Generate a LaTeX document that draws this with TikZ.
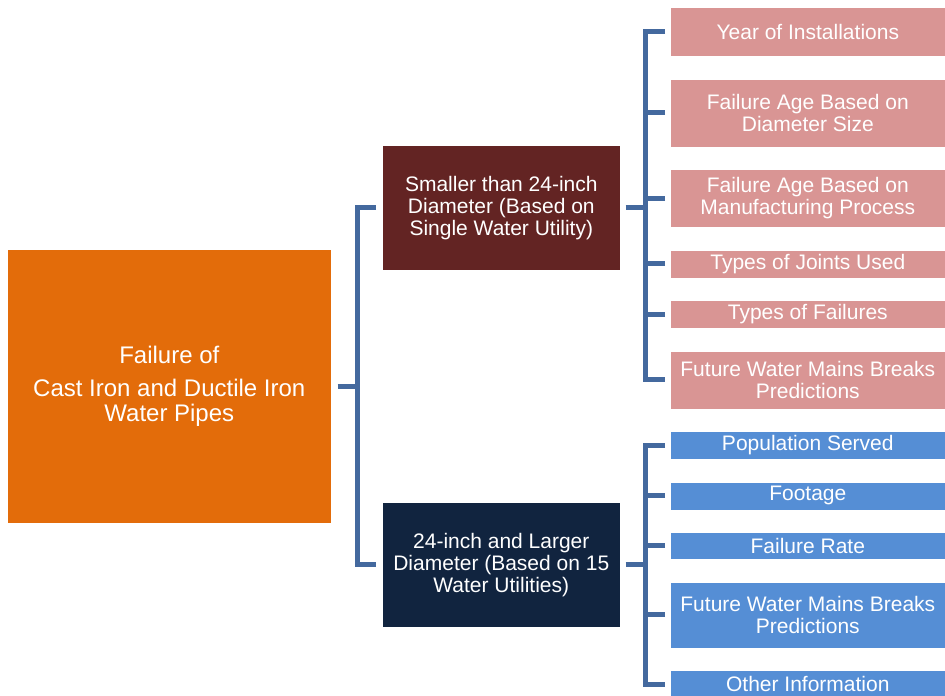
\documentclass[tikz,border=0pt]{standalone}
\usepackage{fontspec}
\setmainfont{Liberation Sans}
\usetikzlibrary{positioning}
\definecolor{rootorange}{RGB}{227,108,10}
\definecolor{smallred}{RGB}{99,36,35}
\definecolor{largenavy}{RGB}{17,36,63}
\definecolor{leafpink}{RGB}{217,149,148}
\definecolor{leafblue}{RGB}{85,142,213}
\definecolor{linkblue}{RGB}{68,105,158}

\begin{document}
\begin{tikzpicture}[
  x=1pt, y=-1pt,
  node distance=21.9pt,
  base/.style={text=white, inner sep=2pt, align=center, draw=white, line width=0.6pt},
  rootbox/.style={base, fill=rootorange, minimum width=324pt, minimum height=274pt, font=\fontsize{24}{25}\selectfont},
  mid/.style={base, minimum width=238pt, minimum height=125pt, font=\fontsize{21}{22}\selectfont},
  pinkleaf/.style={base, fill=leafpink, minimum width=275pt, font=\fontsize{21}{22}\selectfont},
  blueleaf/.style={base, fill=leafblue, minimum width=275pt, font=\fontsize{21}{22}\selectfont},
  link/.style={line width=5pt, draw=linkblue}
]
\useasboundingbox (0,0) rectangle (945,696);
\node[rootbox, anchor=north west] (root) at (7,249) {Failure of\\[8pt]Cast Iron and Ductile Iron\\Water Pipes};
\node[mid, fill=smallred, anchor=north west] (small) at (382,145) {Smaller than 24-inch\\Diameter (Based on\\Single Water Utility)};
\node[mid, fill=largenavy, anchor=north west] (large) at (382,502) {24-inch and Larger\\Diameter (Based on 15\\Water Utilities)};
\node[pinkleaf, minimum height=49pt, anchor=north west] (yr) at (670,7) {Year of Installations};
\node[pinkleaf, minimum height=68pt, below=of yr] (agedia) {Failure Age Based on\\Diameter Size};
\node[pinkleaf, minimum height=58pt, below=of agedia] (agemfg) {Failure Age Based on\\Manufacturing Process};
\node[pinkleaf, minimum height=28pt, below=of agemfg] (joints) {Types of Joints Used};
\node[pinkleaf, minimum height=28pt, below=of joints] (fails) {Types of Failures};
\node[pinkleaf, minimum height=58pt, below=of fails] (fut1) {Future Water Mains Breaks\\Predictions};
\node[blueleaf, minimum height=28pt, below=of fut1] (pop) {Population Served};
\node[blueleaf, minimum height=28pt, below=of pop] (foot) {Footage};
\node[blueleaf, minimum height=27pt, below=of foot] (rate) {Failure Rate};
\node[blueleaf, minimum height=66pt, below=of rate] (fut2) {Future Water Mains Breaks\\Predictions};
\node[blueleaf, minimum height=28pt, below=of fut2] (other) {Other Information};
% root to the two diameter groups
\draw[link] ([xshift=6pt]root.east) -- ++(20pt,0);
\draw[link] ([xshift=-6pt]small.west) -- ++(-19pt,0) |- ([xshift=-6pt]large.west);
% smaller than 24-inch
\draw[link] ([xshift=5pt]small.east) -- ++(20pt,0);
\draw[link] ([xshift=-5pt]yr.west) -- ++(-20pt,0) |- ([xshift=-5pt]fut1.west);
\draw[link] ([xshift=-5pt]agedia.west) -- ++(-20pt,0); \draw[link] ([xshift=-5pt]agemfg.west) -- ++(-20pt,0);
\draw[link] ([xshift=-5pt]joints.west) -- ++(-20pt,0); \draw[link] ([xshift=-5pt]fails.west) -- ++(-20pt,0);
% 24-inch and larger
\draw[link] ([xshift=5pt]large.east) -- ++(20pt,0);
\draw[link] ([xshift=-5pt]pop.west) -- ++(-20pt,0) |- ([xshift=-5pt]other.west);
\draw[link] ([xshift=-5pt]foot.west) -- ++(-20pt,0); \draw[link] ([xshift=-5pt]rate.west) -- ++(-20pt,0);
\draw[link] ([xshift=-5pt]fut2.west) -- ++(-20pt,0);
\end{tikzpicture}
\end{document}
